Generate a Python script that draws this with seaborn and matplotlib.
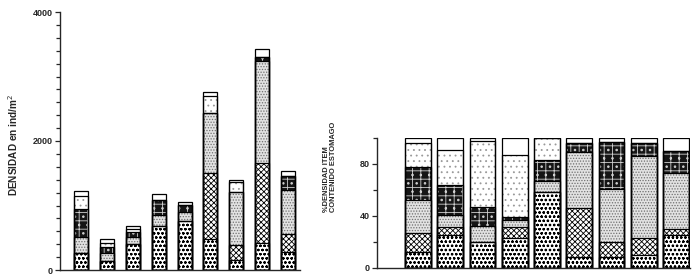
import numpy as np
import pandas as pd
import matplotlib
matplotlib.use("Agg")
import matplotlib.pyplot as plt
from matplotlib import font_manager
import seaborn as sns

sns.set_style("white")
plt.rcParams['font.family'] = ['Liberation Sans', 'DejaVu Sans']
plt.rcParams['hatch.linewidth'] = 0.6

sites = ["1", "2", "3", "4", "5", "6", "7", "8", "9"]
layers = ["puntos", "cruzado", "punteado", "oscuro", "claro", "blanco"]

# Density (ind/m2) per item, bottom to top
dens_puntos   = [270, 140, 410, 685, 765, 480, 160, 415, 275]
dens_cruzado  = [0, 0, 0, 0, 0, 1020, 220, 1250, 290]
dens_punteado = [240, 120, 105, 170, 140, 930, 830, 1570, 675]
dens_oscuro   = [430, 100, 80, 230, 105, 0, 0, 60, 210]
dens_claro    = [215, 60, 35, 0, 0, 270, 150, 0, 0]
dens_blanco   = [65, 55, 50, 95, 45, 60, 35, 125, 80]

# % density of item in stomach content
pct_puntos   = [12, 25, 20, 23, 58, 8, 8, 10, 25]
pct_cruzado  = [15, 6, 0, 8, 0, 38, 12, 13, 5]
pct_punteado = [25, 10, 12, 6, 9, 43, 41, 63, 43]
pct_oscuro   = [26, 23, 15, 2, 16, 7, 36, 10, 17]
pct_claro    = [18, 27, 51, 48, 17, 0, 0, 0, 0]
pct_blanco   = [4, 9, 2, 13, 0, 4, 3, 4, 10]

dens = [dens_puntos, dens_cruzado, dens_punteado, dens_oscuro, dens_claro, dens_blanco]
pct = [pct_puntos, pct_cruzado, pct_punteado, pct_oscuro, pct_claro, pct_blanco]

styles = {
    "puntos":   dict(face="white",   hatch="oooo", hc="black"),
    "cruzado":  dict(face="white",   hatch="xxxxxx", hc="black"),
    "punteado": dict(face="#e2e2e2", hatch="......", hc="#707070"),
    "oscuro":   dict(face="#151515", hatch="++..", hc="#d0d0d0"),
    "claro":    dict(face="white",   hatch="...",  hc="#999999"),
    "blanco":   dict(face="white",   hatch="",     hc="white"),
}

names = {f.name for f in font_manager.fontManager.ttflist}
narrow = "Liberation Sans Narrow" in names


def stacked(ax, series, width):
    cum = np.cumsum(np.array(series, dtype=float), axis=0)
    # draw from top layer downward
    for i in range(len(layers) - 1, -1, -1):
        df = pd.DataFrame({"site": sites, "val": cum[i]})
        n0 = len(ax.patches)
        sns.barplot(data=df, x="site", y="val", order=sites, color=styles[layers[i]]["face"],
                    saturation=1, width=width, ax=ax, errorbar=None)
        for p in ax.patches[n0:]:
            p.set_facecolor(styles[layers[i]]["face"])
            p.set_hatch(styles[layers[i]]["hatch"])
            p.set_edgecolor(styles[layers[i]]["hc"])
            p.set_linewidth(0)
    # outlines of each segment
    for i in range(len(layers)):
        df = pd.DataFrame({"site": sites, "val": cum[i]})
        sns.barplot(data=df, x="site", y="val", order=sites, fill=False,
                    edgecolor="black", linewidth=0.9, width=width, ax=ax, errorbar=None)


fig = plt.figure(figsize=(7, 2.8), dpi=100)

ax1 = fig.add_axes([60 / 700, 10 / 280, 240 / 700, 258 / 280])
stacked(ax1, dens, 0.54)
ax1.set_xlim(-0.81, 8.46)
ax1.set_ylim(0, 4000)
ax1.set_yticks([0, 2000, 4000])
ax1.set_yticks(np.arange(0, 4001, 200), minor=True)

ax2 = fig.add_axes([377 / 700, 12.3 / 280, 313 / 700, 129.7 / 280])
stacked(ax2, pct, 0.8)
ax2.set_xlim(-1.27, 8.43)
ax2.set_ylim(0, 100)
ax2.set_yticks([0, 40, 80])
ax2.set_yticks([20, 60, 100], minor=True)

for ax in (ax1, ax2):
    sns.despine(ax=ax)
    ax.spines["left"].set_linewidth(1.0)
    ax.spines["bottom"].set_linewidth(1.0)
    ax.set_xticks([])
    ax.set_xlabel("")
    ax.set_ylabel("")
    ax.tick_params(axis="y", which="both", direction="out", left=True, length=3.5,
                   width=0.9, labelsize=6.5, pad=2)
    ax.tick_params(axis="y", which="minor", length=3)
    for t in ax.get_yticklabels():
        t.set_fontweight("bold")

fig.text(13 / 700, 1 - 145 / 280, "DENSIDAD en ind/m$^2$", rotation=90, ha="center",
         va="center", fontsize=7.2, fontweight="bold")
fig.text(330 / 700, 1 - 212 / 280, "%DENSIDAD ITEM\nCONTENIDO ESTOMAGO", rotation=90,
         ha="center", va="bottom", multialignment="left", linespacing=1.05,
         fontsize=6.2 if narrow else 5.4, fontweight="bold",
         family=(["Liberation Sans Narrow", "DejaVu Sans"] if narrow
                 else ["Liberation Sans", "DejaVu Sans"]))

fig.savefig("out.png", dpi=100)
